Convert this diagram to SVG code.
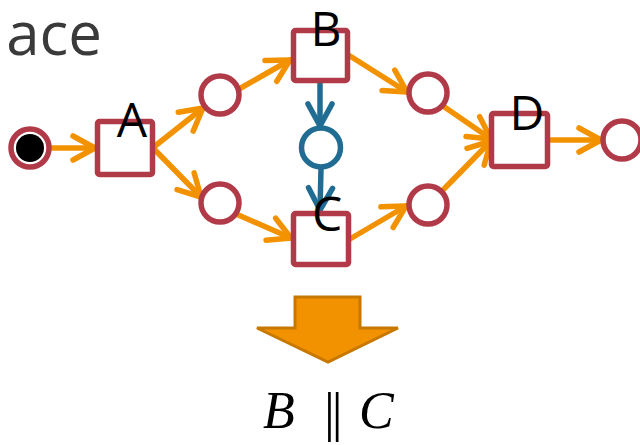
<svg xmlns="http://www.w3.org/2000/svg" width="640" height="445" viewBox="0 0 640 445">
<defs>
<style>
.place{fill:#fff;stroke:#B13A48;stroke-width:5.5}
.trans{fill:#fff;stroke:#B13A48;stroke-width:5.5}
.bplace{fill:#fff;stroke:#216C93;stroke-width:5.5}
.lbl{font-family:"Open Sans","DejaVu Sans",sans-serif;font-size:48px;fill:#000;text-anchor:middle}
.oarc{fill:none;stroke:#F39200;stroke-width:5.5;stroke-linecap:round;marker-end:url(#ho)}
.barc{fill:none;stroke:#216C93;stroke-width:5.5;stroke-linecap:round;marker-end:url(#hb)}
</style>
<marker id="ho" markerUnits="userSpaceOnUse" viewBox="-30 -20 40 40" markerWidth="40" markerHeight="40" refX="0" refY="0" orient="auto" overflow="visible">
<path d="M-22 -12 L0 0 L-22 12" fill="none" stroke="#F39200" stroke-width="5.5" stroke-linecap="round" stroke-linejoin="round"/>
</marker>
<marker id="hb" markerUnits="userSpaceOnUse" viewBox="-30 -20 40 40" markerWidth="40" markerHeight="40" refX="0" refY="0" orient="auto" overflow="visible">
<path d="M-22 -12 L0 0 L-22 12" fill="none" stroke="#216C93" stroke-width="5.5" stroke-linecap="round" stroke-linejoin="round"/>
</marker>
</defs>
<rect width="640" height="445" fill="#fff"/>
<text x="102" y="55" font-family="'Open Sans','DejaVu Sans',sans-serif" font-size="60" fill="#3a3a3a" text-anchor="end">ace</text>

<g id="connectors">
<path class="oarc" d="M51 148 L95 148"/>
<path class="oarc" d="M155 146 L203 108"/>
<path class="oarc" d="M155 150 L201 197"/>
<path class="oarc" d="M239 89 L290 60"/>
<path class="oarc" d="M236 214 L291 238"/>
<path class="oarc" d="M350 56 L407 92"/>
<path class="oarc" d="M350 239 L406 206"/>
<path class="oarc" d="M443 106 L491 139"/>
<path class="oarc" d="M442 191 L491 141"/>
<path class="oarc" d="M551 140 L601 140"/>
<path class="barc" d="M320 84 L320 126"/>
<path class="barc" d="M321 169 L320 210"/>
</g>

<g id="start"><circle class="place" cx="30" cy="148" r="19"/><circle cx="30" cy="148" r="14" fill="#000"/></g>
<g id="A"><rect class="trans" x="97.5" y="121.5" width="55" height="53" rx="2"/><text class="lbl" x="132" y="137">A</text></g>
<g id="p1"><circle class="place" cx="220" cy="95" r="19"/></g>
<g id="p2"><circle class="place" cx="220" cy="203" r="19"/></g>
<g id="B"><rect class="trans" x="293.5" y="30.5" width="54" height="50" rx="2"/><text class="lbl" x="326" y="46">B</text></g>
<g id="pb"><circle class="bplace" cx="321" cy="147.5" r="19.5"/></g>
<g id="C"><rect class="trans" x="293.5" y="213.5" width="55" height="51" rx="2"/><text class="lbl" x="327" y="231">C</text></g>
<g id="p3"><circle class="place" cx="428" cy="93" r="19"/></g>
<g id="p4"><circle class="place" cx="428" cy="205" r="19"/></g>
<g id="D"><rect class="trans" x="491.5" y="113.5" width="56" height="53" rx="2"/><text class="lbl" x="527" y="130">D</text></g>
<g id="end"><circle class="place" cx="622" cy="140" r="19"/></g>

<g id="bigarrow"><polygon points="295,297 360,297 360,328 398,328 328,362 257,328 295,328" fill="#F39200" stroke="#C77800" stroke-width="3" stroke-linejoin="miter"/></g>

<g id="formula" font-family="'Liberation Serif','DejaVu Serif',serif" font-size="50" fill="#000">
<text x="263" y="428" font-style="italic" font-size="52">B</text>
<text x="324" y="430" letter-spacing="-3" font-size="54">||</text>
<text x="359" y="428" font-style="italic" font-size="52">C</text>
</g>
</svg>
